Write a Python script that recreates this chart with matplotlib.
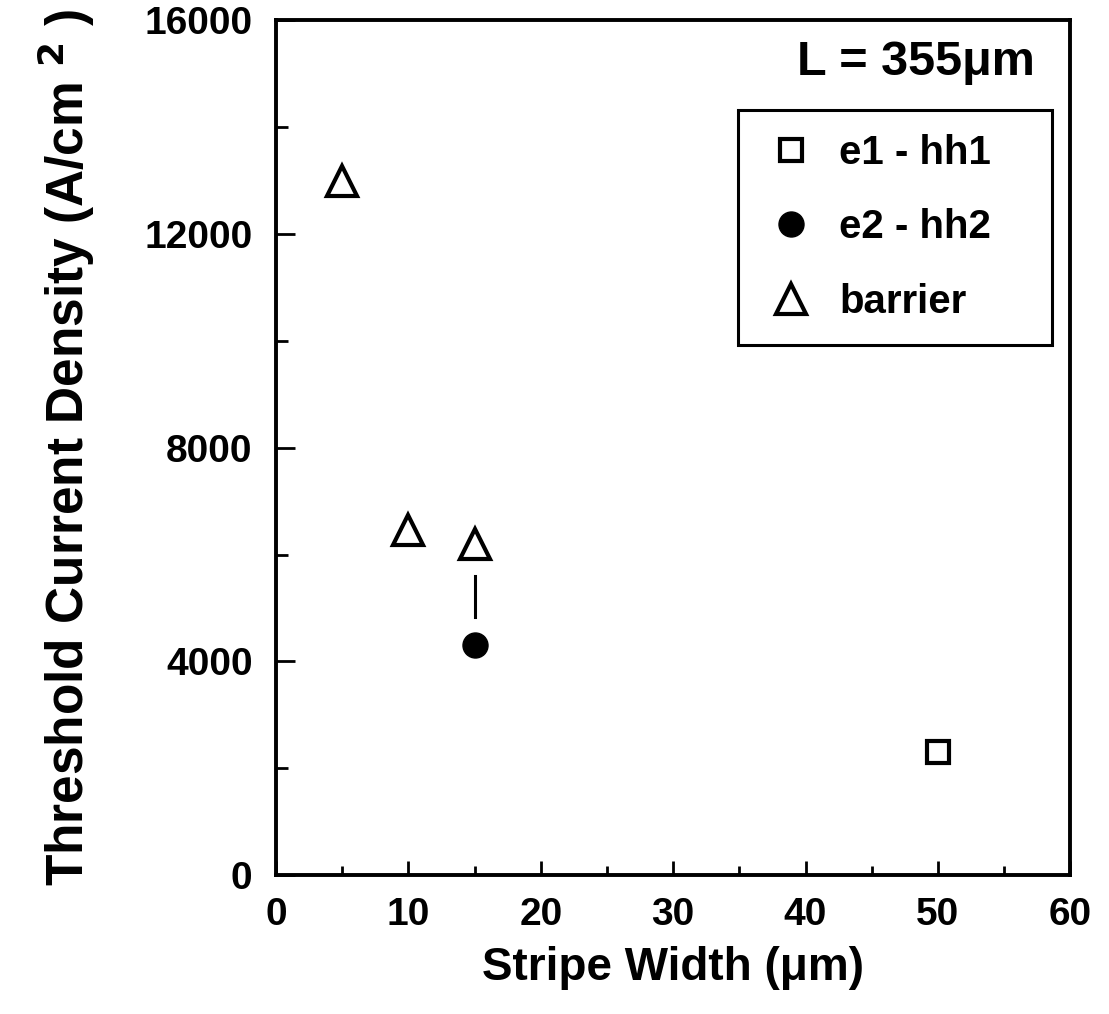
import numpy as np
import matplotlib as mpl
mpl.use('Agg')
import matplotlib.pyplot as plt

# data
e1_x = [50]
e1_y = [2300]
e2_x = [15]
e2_y = [4300]
bar_x = [5, 10, 15]
bar_y = [13000, 6450, 6200]
# short vertical guide between barrier and e2-hh2 points at 15 um
guide_x = [15, 15]
guide_y = [4830, 5600]

xticks = [0, 10, 20, 30, 40, 50, 60]
yticks = [0, 4000, 8000, 12000, 16000]

mpl.rcParams['font.family'] = ['Liberation Sans', 'DejaVu Sans']
mpl.rcParams['font.weight'] = 'bold'
mpl.rcParams['axes.labelweight'] = 'bold'
mpl.rcParams['mathtext.default'] = 'bf'
narrow = ['Liberation Sans Narrow', 'Liberation Sans']

fig = plt.figure(figsize=(11.09, 10.14), dpi=100)
ax = fig.add_axes([0.249, 0.137, 0.716, 0.843])

ax.plot(e1_x, e1_y, 's', ms=15.5, mfc='white', mec='black', mew=3, label='e1 - hh1')
ax.plot(e2_x, e2_y, 'o', ms=18, mfc='black', mec='black', mew=1, label='e2 - hh2')
ax.plot(bar_x, bar_y, '^', ms=21, mfc='white', mec='black', mew=3, label='barrier')
ax.plot(guide_x, guide_y, '-', color='black', lw=2.2)

ax.set_xlim(0, 60)
ax.set_ylim(0, 16000)
ax.set_xticks(xticks)
ax.set_yticks(yticks)
ax.set_xticks(np.arange(5, 60, 10), minor=True)
ax.set_yticks(np.arange(2000, 16000, 4000), minor=True)

ax.tick_params(axis='both', which='both', direction='in', width=2, labelsize=28,
               top=False, right=False)
ax.tick_params(axis='x', which='major', length=10, pad=16)
ax.tick_params(axis='x', which='minor', length=6.5)
ax.tick_params(axis='y', which='major', length=14, pad=17)
ax.tick_params(axis='y', which='minor', length=8.5)
for sp in ax.spines.values():
    sp.set_linewidth(2.8)

ax.set_xlabel('Stripe Width (\u03bcm)', fontsize=33, family=narrow, fontweight='bold')
ax.set_ylabel('Threshold Current Density (A/cm $^{2}$ )', fontsize=37, family=narrow,
              fontweight='bold')
ax.xaxis.set_label_coords(0.5, -0.083)
ax.yaxis.set_label_coords(-0.225, 0.5)

ax.text(0.956, 0.936, 'L = 355\u03bcm', transform=ax.transAxes, ha='right',
        va='baseline', fontsize=35)

leg = ax.legend(loc='upper left', bbox_to_anchor=(0.582, 0.0, 0.395, 0.895),
                mode='expand', borderaxespad=0, fontsize=29, frameon=True,
                fancybox=False, edgecolor='black', framealpha=1,
                handlelength=1.4, handletextpad=0.5, labelspacing=0.9,
                borderpad=0.6, numpoints=1)
leg.get_frame().set_linewidth(2.2)

fig.savefig('out.png', dpi=100)
